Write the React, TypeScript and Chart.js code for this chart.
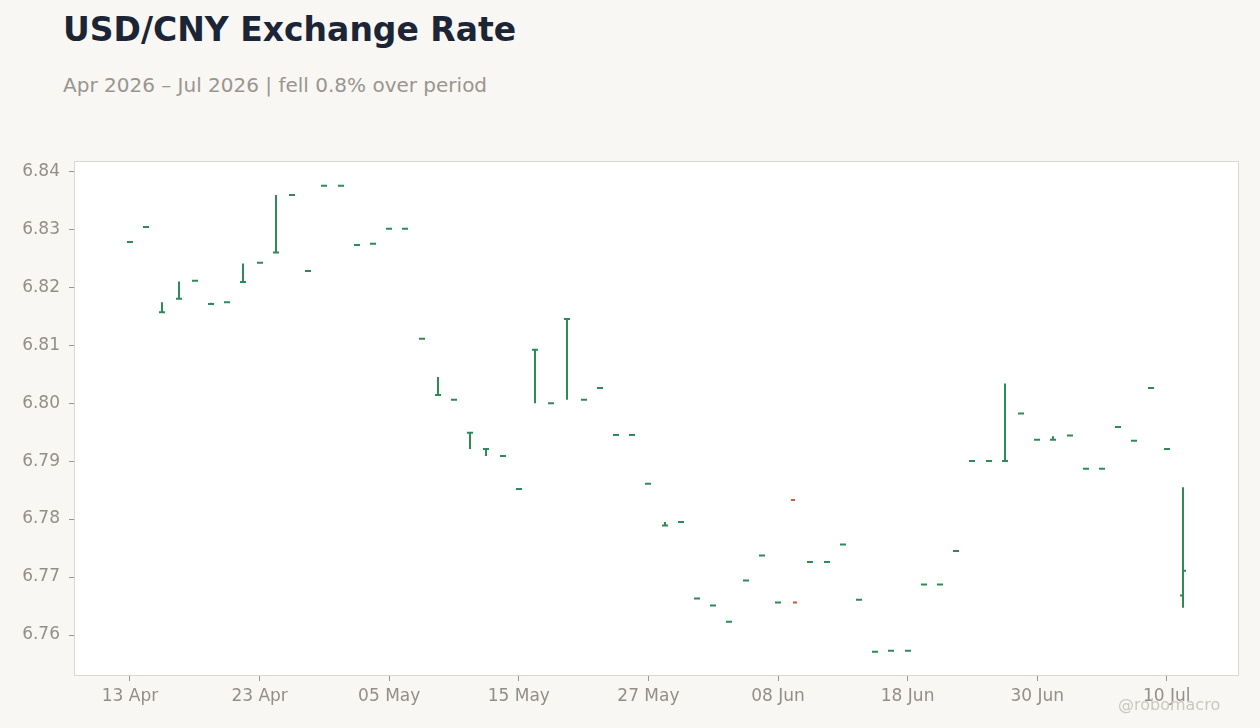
import { useEffect, useRef } from 'react'
import { Chart, registerables } from 'chart.js'

Chart.register(...registerables)

// business days, 13 Apr – 13 Jul 2026
const DATES = [
  '13 Apr', '14 Apr', '15 Apr', '16 Apr', '17 Apr', '20 Apr', '21 Apr', '22 Apr', '23 Apr', '24 Apr',
  '27 Apr', '28 Apr', '29 Apr', '30 Apr', '01 May', '04 May', '05 May', '06 May', '07 May', '08 May',
  '11 May', '12 May', '13 May', '14 May', '15 May', '18 May', '19 May', '20 May', '21 May', '22 May',
  '25 May', '26 May', '27 May', '28 May', '29 May', '01 Jun', '02 Jun', '03 Jun', '04 Jun', '05 Jun',
  '08 Jun', '09 Jun', '10 Jun', '11 Jun', '12 Jun', '15 Jun', '16 Jun', '17 Jun', '18 Jun', '19 Jun',
  '22 Jun', '23 Jun', '24 Jun', '25 Jun', '26 Jun', '29 Jun', '30 Jun', '01 Jul', '02 Jul', '03 Jul',
  '06 Jul', '07 Jul', '08 Jul', '09 Jul', '10 Jul', '13 Jul',
]

const OPEN = [
  6.8278, 6.8304, 6.8157, 6.8180, 6.8211, 6.8171, 6.8174, 6.8209, 6.8242, 6.8260,
  6.8359, 6.8228, 6.8375, 6.8375, 6.8273, 6.8275, 6.8301, 6.8301, 6.8111, 6.8014,
  6.8006, 6.7949, 6.7921, 6.7909, 6.7852, 6.8092, 6.8000, 6.8145, 6.8006, 6.8026,
  6.7945, 6.7945, 6.7861, 6.7789, 6.7795, 6.7663, 6.7651, 6.7623, 6.7694, 6.7737,
  6.7656, 6.7833, 6.7726, 6.7726, 6.7756, 6.7661, 6.7571, 6.7573, 6.7573, 6.7687,
  6.7687, 6.7745, 6.7900, 6.7900, 6.7900, 6.7982, 6.7937, 6.7937, 6.7944, 6.7887,
  6.7887, 6.7959, 6.7935, 6.8026, 6.7921, 6.7668,
]

const HIGH = [
  6.8278, 6.8304, 6.8174, 6.8210, 6.8211, 6.8173, 6.8174, 6.8241, 6.8242, 6.8359,
  6.8359, 6.8228, 6.8375, 6.8375, 6.8273, 6.8275, 6.8301, 6.8301, 6.8111, 6.8045,
  6.8006, 6.7949, 6.7921, 6.7909, 6.7852, 6.8092, 6.8000, 6.8145, 6.8006, 6.8026,
  6.7945, 6.7945, 6.7861, 6.7795, 6.7795, 6.7663, 6.7651, 6.7623, 6.7694, 6.7737,
  6.7656, 6.7656, 6.7726, 6.7726, 6.7756, 6.7661, 6.7571, 6.7573, 6.7573, 6.7687,
  6.7687, 6.7745, 6.7900, 6.7900, 6.8034, 6.7982, 6.7937, 6.7943, 6.7944, 6.7887,
  6.7887, 6.7959, 6.7935, 6.8026, 6.7921, 6.7855,
]

const LOW = [
  6.8278, 6.8304, 6.8157, 6.8180, 6.8211, 6.8171, 6.8174, 6.8209, 6.8242, 6.8260,
  6.8359, 6.8228, 6.8375, 6.8375, 6.8273, 6.8275, 6.8301, 6.8301, 6.8111, 6.8014,
  6.8006, 6.7921, 6.7909, 6.7909, 6.7852, 6.8000, 6.8000, 6.8006, 6.8006, 6.8026,
  6.7945, 6.7945, 6.7861, 6.7789, 6.7795, 6.7663, 6.7651, 6.7623, 6.7694, 6.7737,
  6.7656, 6.7656, 6.7726, 6.7726, 6.7756, 6.7661, 6.7571, 6.7573, 6.7573, 6.7687,
  6.7687, 6.7745, 6.7900, 6.7900, 6.7900, 6.7982, 6.7937, 6.7937, 6.7944, 6.7887,
  6.7887, 6.7959, 6.7935, 6.8026, 6.7921, 6.7647,
]

const CLOSE = [
  6.8278, 6.8304, 6.8157, 6.8180, 6.8211, 6.8171, 6.8174, 6.8209, 6.8242, 6.8260,
  6.8359, 6.8228, 6.8375, 6.8375, 6.8273, 6.8275, 6.8301, 6.8301, 6.8111, 6.8014,
  6.8006, 6.7949, 6.7921, 6.7909, 6.7852, 6.8092, 6.8000, 6.8145, 6.8006, 6.8026,
  6.7945, 6.7945, 6.7861, 6.7789, 6.7795, 6.7663, 6.7651, 6.7623, 6.7694, 6.7737,
  6.7656, 6.7656, 6.7726, 6.7726, 6.7756, 6.7661, 6.7571, 6.7573, 6.7573, 6.7687,
  6.7687, 6.7745, 6.7900, 6.7900, 6.7900, 6.7982, 6.7937, 6.7937, 6.7944, 6.7887,
  6.7887, 6.7959, 6.7935, 6.8026, 6.7921, 6.7711,
]

const Y_TICKS = [6.76, 6.77, 6.78, 6.79, 6.80, 6.81, 6.82, 6.83, 6.84]
const X_TICK_EVERY = 8

const UP = '#2e8b57'
const DOWN = '#cc5a3f'
const FONT = '"DejaVu Sans", sans-serif'

const ohlcPlugin = {
  id: 'ohlc',
  beforeDatasetsDraw(chart: Chart) {
    const { ctx, chartArea: a } = chart
    ctx.save()
    ctx.fillStyle = '#ffffff'
    ctx.fillRect(a.left, a.top, a.width, a.height)
    ctx.restore()
  },
  afterDatasetsDraw(chart: Chart) {
    const { ctx, scales } = chart
    const xs = scales.x
    const ys = scales.y
    ctx.save()
    ctx.lineWidth = 2
    ctx.lineCap = 'butt'
    OPEN.forEach((o, i) => {
      const x = Math.round(xs.getPixelForValue(i))
      const c = CLOSE[i]
      ctx.strokeStyle = c >= o ? UP : DOWN
      const yh = ys.getPixelForValue(HIGH[i])
      const yl = ys.getPixelForValue(LOW[i])
      ctx.beginPath()
      ctx.moveTo(x, yh)
      ctx.lineTo(x, yl)
      ctx.stroke()
      const yo = ys.getPixelForValue(o)
      const yc = ys.getPixelForValue(c)
      ctx.beginPath()
      ctx.moveTo(x - 3, yo)
      ctx.lineTo(x + 1, yo)
      ctx.moveTo(x - 1, yc)
      ctx.lineTo(x + 3, yc)
      ctx.stroke()
    })
    ctx.restore()
  },
  afterDraw(chart: Chart) {
    const { ctx, chartArea: a } = chart
    ctx.save()
    ctx.strokeStyle = '#ddd8cf'
    ctx.lineWidth = 1
    ctx.strokeRect(a.left - 0.5, a.top - 0.5, a.width + 1, a.height + 1)
    ctx.restore()
  },
}

export default function App() {
  const ref = useRef<HTMLCanvasElement>(null)

  useEffect(() => {
    document.body.style.margin = '0'
    if (!ref.current) return
    const chart = new Chart(ref.current, {
      type: 'scatter',
      data: {
        datasets: [{
          label: 'USD/CNY',
          data: CLOSE.map((c, i) => ({ x: i, y: c })),
          pointRadius: 0,
          showLine: false,
        }],
      },
      options: {
        responsive: false,
        animation: false,
        layout: { padding: { left: 0, right: 22, top: 162, bottom: 0 } },
        plugins: { legend: { display: false }, tooltip: { enabled: false } },
        scales: {
          x: {
            type: 'linear',
            min: -3.395,
            max: DATES.length - 1 + 3.395,
            afterBuildTicks: (s: any) => {
              const t = []
              for (let i = 0; i < DATES.length; i += X_TICK_EVERY) t.push({ value: i })
              s.ticks = t
            },
            afterFit: (s: any) => { s.height = 53 },
            ticks: {
              color: '#938e88',
              font: { family: FONT, size: 17 },
              padding: 5,
              maxRotation: 0,
              autoSkip: false,
              callback: (v: any) => DATES[v] ?? '',
            },
            grid: { color: '#efefef', tickColor: '#9a958f', tickLength: 6 },
            border: { display: false },
          },
          y: {
            type: 'linear',
            min: 6.7531,
            max: 6.8416,
            afterBuildTicks: (s: any) => { s.ticks = Y_TICKS.map(v => ({ value: v })) },
            afterFit: (s: any) => { s.width = 75 },
            ticks: {
              color: '#938e88',
              font: { family: FONT, size: 17 },
              padding: 9,
              callback: (v: any) => Number(v).toFixed(2),
            },
            grid: { color: '#efefef', tickColor: '#9a958f', tickLength: 6 },
            border: { display: false },
          },
        },
      },
      plugins: [ohlcPlugin],
    })
    return () => chart.destroy()
  }, [])

  return (
    <div style={{ position: 'relative', width: 1260, height: 728, background: '#f8f7f4', fontFamily: FONT, overflow: 'hidden' }}>
      <div style={{ position: 'absolute', left: 63, top: 13, fontSize: 33, lineHeight: '33px', fontWeight: 700, color: '#1b2535', whiteSpace: 'nowrap' }}>
        USD/CNY Exchange Rate
      </div>
      <div style={{ position: 'absolute', left: 63, top: 75, fontSize: 20, lineHeight: '20px', color: '#9a958f', whiteSpace: 'nowrap' }}>
        Apr 2026 – Jul 2026 | fell 0.8% over period
      </div>
      <canvas ref={ref} width={1260} height={728} style={{ position: 'absolute', left: 0, top: 0, width: 1260, height: 728 }} />
      <div style={{ position: 'absolute', left: 1118, top: 695, fontSize: 16, lineHeight: '20px', color: '#cbc7c2', whiteSpace: 'nowrap' }}>
        @robomacro
      </div>
    </div>
  )
}
